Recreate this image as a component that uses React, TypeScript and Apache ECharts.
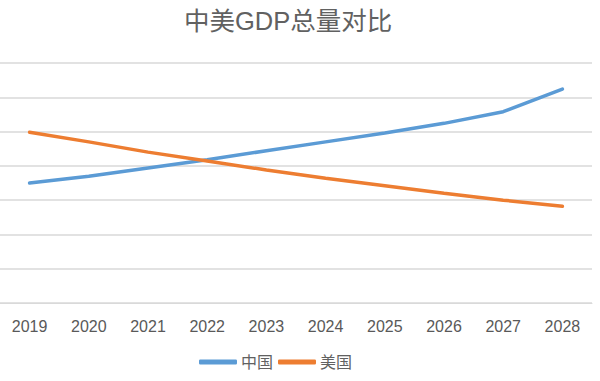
import React, { useEffect, useRef } from "react";
import * as echarts from "echarts";

const years = ["2019", "2020", "2021", "2022", "2023", "2024", "2025", "2026", "2027", "2028"];
const chinaValues = [17.5, 18.5, 19.7, 20.9, 22.2, 23.5, 24.8, 26.2, 27.9, 31.2];
const usValues = [24.9, 23.5, 22.0, 20.7, 19.4, 18.2, 17.1, 16.0, 15.0, 14.1];
const seriesNames = ["中国", "美国"];
const titleText = "中美GDP总量对比";

const FONT = "'Liberation Sans', 'Noto Sans CJK SC', sans-serif";

export default function App() {
  const ref = useRef<HTMLDivElement>(null);
  useEffect(() => {
    if (!ref.current) return;
    const chart = echarts.init(ref.current, undefined, { renderer: "svg" });
    chart.setOption({
      animation: false,
      backgroundColor: "#ffffff",
      title: {
        text: titleText,
        left: 179,
        top: 3,
        textStyle: { fontFamily: FONT, fontSize: 25.5, fontWeight: "normal", color: "#616161" },
      },
      legend: {
        bottom: 6,
        left: 194,
        itemWidth: 38,
        itemHeight: 5,
        itemGap: 5,
        icon: "roundRect",
        data: seriesNames,
        textStyle: { fontFamily: FONT, fontSize: 16, color: "#616161", padding: [0, 0, 0, -1] },
      },
      grid: { left: 0, right: 8, top: 63, bottom: 78, containLabel: false },
      xAxis: {
        type: "category",
        data: years,
        boundaryGap: true,
        axisLine: { lineStyle: { color: "#d9d9d9", width: 1 } },
        axisTick: { show: false },
        axisLabel: { fontFamily: FONT, fontSize: 16, color: "#595959", margin: 15 },
      },
      yAxis: {
        type: "value",
        min: 0,
        max: 35,
        interval: 5,
        axisLabel: { show: false },
        axisLine: { show: false },
        axisTick: { show: false },
        splitLine: { lineStyle: { color: "#d9d9d9", width: 1.5 } },
      },
      series: [
        {
          name: seriesNames[0],
          type: "line",
          data: chinaValues,
          showSymbol: false,
          symbol: "none",
          color: "#5B9BD5",
          lineStyle: { width: 3.5, color: "#5B9BD5", cap: "round" },
        },
        {
          name: seriesNames[1],
          type: "line",
          data: usValues,
          showSymbol: false,
          symbol: "none",
          color: "#ED7D31",
          lineStyle: { width: 3.5, color: "#ED7D31", cap: "round" },
        },
      ],
    });
    return () => chart.dispose();
  }, []);
  return (
    <div
      ref={ref}
      style={{ position: "fixed", left: 0, top: 0, width: 600, height: 381, background: "#fff" }}
    />
  );
}
